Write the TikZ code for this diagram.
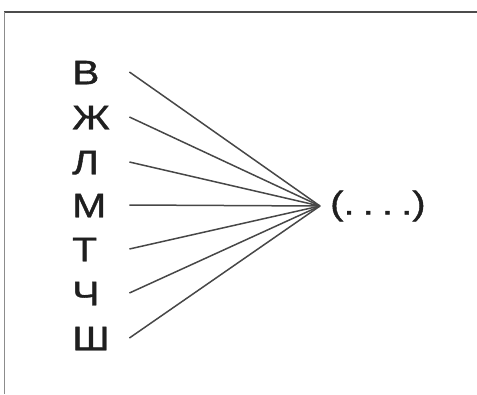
\documentclass[tikz,border=0pt]{standalone}
\usepackage{graphicx}
\usepackage{fontspec}
\setmainfont{Liberation Sans}
\newfontfamily\lettfont{Liberation Sans}[FakeBold=1]
\newcommand{\wide}[1]{\scalebox{1.2}[1]{#1}}
\newcommand{\widep}[1]{\scalebox{1.2}[1]{#1}}
\begin{document}
\begin{tikzpicture}[x=1pt,y=-1pt,
  letter/.style={inner sep=0pt, text width=57pt, align=left, text height=24.5pt, text depth=0pt,
    font=\lettfont\fontsize{34}{38}\selectfont, text=black!88, anchor=west},
  dotsnode/.style={inner xsep=10pt, inner ysep=0pt, font=\lettfont\fontsize{33}{37}\selectfont, text=black!88},
  conn/.style={draw=black!72, line width=1.5pt},
  frameline/.style={line width=2pt, draw=black!70}]
\useasboundingbox (0,0) rectangle (477,394);
\draw[frameline] (4,12) -- (477,12);
\draw[line width=1.2pt, draw=black!45] (4.5,12) -- (4.5,394);
\node[letter] (v) at (72,72) {\wide{В}};
\node[letter] (zh) at (72,117) {\wide{Ж}};
\node[letter] (l) at (72,162) {\wide{Л}};
\node[letter] (m) at (72,205) {\wide{М}};
\node[letter] (t) at (72,249) {\wide{Т}};
\node[letter] (ch) at (72,293) {\wide{Ч}};
\node[letter] (sh) at (72,338) {\wide{Ш}};
\node[dotsnode, anchor=west] (d) at (320,206) {\widep{(}\kern0.2pt\widep{.}\kern8.2pt\widep{.}\kern8.2pt\widep{.}\kern8.2pt\widep{.}\kern0.2pt\widep{)}};
\foreach \n in {v,zh,l,m,t,ch,sh} \draw[conn] (\n.east) -- (d.west);
\end{tikzpicture}
\end{document}
